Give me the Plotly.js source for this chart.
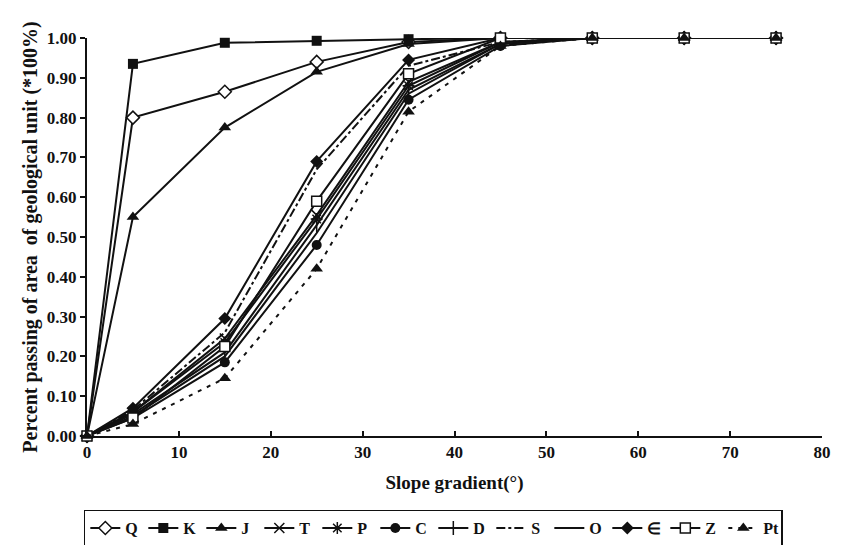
<!DOCTYPE html>
<html>
<head>
<meta charset="utf-8">
<script src="https://cdn.plot.ly/plotly-3.0.1.min.js"></script>
<style>html,body{margin:0;padding:0;background:#fff;}#chart{width:853px;height:545px;}</style>
</head>
<body>
<div id="chart"></div>
<script>
const slope = [0, 5, 15, 25, 35, 45, 55, 65, 75];

const unitNames = ["Q", "K", "J", "T", "P", "C", "D", "S", "O", "∈", "Z", "Pt"];

const Q  = [0, 0.80, 0.865, 0.94, 0.99, 1.0, 1.0, 1.0, 1.0];
const K  = [0, 0.935, 0.988, 0.993, 0.997, 1.0, 1.0, 1.0, 1.0];
const J  = [0, 0.55, 0.775, 0.915, 0.985, 1.0, 1.0, 1.0, 1.0];
const T  = [0, 0.06, 0.245, 0.555, 0.89, 0.99, 1.0, 1.0, 1.0];
const P  = [0, 0.06, 0.235, 0.545, 0.88, 0.99, 1.0, 1.0, 1.0];
const C  = [0, 0.045, 0.185, 0.48, 0.845, 0.98, 1.0, 1.0, 1.0];
const D  = [0, 0.055, 0.21, 0.53, 0.87, 0.985, 1.0, 1.0, 1.0];
const S  = [0, 0.065, 0.26, 0.67, 0.93, 0.99, 1.0, 1.0, 1.0];
const O  = [0, 0.05, 0.20, 0.51, 0.86, 0.985, 1.0, 1.0, 1.0];
const E  = [0, 0.07, 0.295, 0.69, 0.945, 1.0, 1.0, 1.0, 1.0];
const Z  = [0, 0.045, 0.225, 0.59, 0.91, 1.0, 1.0, 1.0, 1.0];
const Pt = [0, 0.03, 0.145, 0.42, 0.815, 0.98, 1.0, 1.0, 1.0];

const seriesValues = [Q, K, J, T, P, C, D, S, O, E, Z, Pt];

const styles = [
  {symbol: "diamond", color: "#fff", lw: 1.5, dash: "solid", size: 10},
  {symbol: "square", color: "#111", lw: 0, dash: "solid", size: 10},
  {symbol: "triangle-up", color: "#111", lw: 0, dash: "solid", size: 11},
  {symbol: "x-thin-open", color: "#111", lw: 1.5, dash: "solid", size: 10},
  {symbol: "asterisk-open", color: "#111", lw: 1.5, dash: "solid", size: 10},
  {symbol: "circle", color: "#111", lw: 0, dash: "solid", size: 10},
  {symbol: "line-ns-open", color: "#111", lw: 1.5, dash: "solid", size: 10},
  {symbol: null, color: "#111", lw: 0, dash: "dashdot", size: 0},
  {symbol: null, color: "#111", lw: 0, dash: "solid", size: 0},
  {symbol: "diamond", color: "#111", lw: 0, dash: "solid", size: 10},
  {symbol: "square", color: "#fff", lw: 1.5, dash: "solid", size: 10},
  {symbol: "triangle-up", color: "#111", lw: 0, dash: "4px,6px", size: 11}
];

const font = "Liberation Serif, Times New Roman, serif";

const traces = unitNames.map((name, i) => {
  const st = styles[i];
  const t = {
    x: slope,
    y: seriesValues[i],
    name: name,
    type: "scatter",
    mode: st.symbol ? "lines+markers" : "lines",
    line: {color: "#111", width: 2, dash: st.dash},
    cliponaxis: false
  };
  if (st.symbol) {
    t.marker = {symbol: st.symbol, size: st.size, color: st.color,
                line: {color: "#111", width: st.lw}};
  }
  return t;
});

const layout = {
  width: 853, height: 545,
  margin: {l: 87, r: 31, t: 38, b: 109, autoexpand: false},
  paper_bgcolor: "#fff", plot_bgcolor: "#fff",
  font: {family: font, color: "#111", size: 17, weight: "bold"},
  showlegend: true,
  legend: {
    orientation: "h", xref: "container", x: 0.508, xanchor: "center", y: -0.185, yanchor: "top",
    bordercolor: "#111", borderwidth: 1.5,
    font: {family: font, size: 16, weight: "bold", color: "#111"},
    itemwidth: 30, tracegroupgap: 0, entrywidth: 13, entrywidthmode: "pixels"
  },
  xaxis: {
    range: [0, 80], dtick: 10, tick0: 0,
    showline: true, linecolor: "#111", linewidth: 2,
    ticks: "inside", ticklen: 5, tickwidth: 2, tickcolor: "#111",
    showgrid: false, zeroline: false,
    tickfont: {family: font, size: 17, weight: "bold"},
    title: {text: "Slope gradient(°)", font: {family: font, size: 19, weight: "bold"}, standoff: 14}
  },
  yaxis: {
    range: [0, 1.0], dtick: 0.1, tick0: 0, tickformat: ".2f",
    showline: true, linecolor: "#111", linewidth: 2,
    ticks: "outside", ticklen: 5, tickwidth: 2, tickcolor: "#111",
    showgrid: false, zeroline: false,
    tickfont: {family: font, size: 17, weight: "bold"},
    title: {text: "Percent passing of area  of geological unit (*100%)", font: {family: font, size: 20, weight: "bold"}, standoff: 4}
  }
};

Plotly.newPlot("chart", traces, layout, {displayModeBar: false, staticPlot: true});
</script>
</body>
</html>
